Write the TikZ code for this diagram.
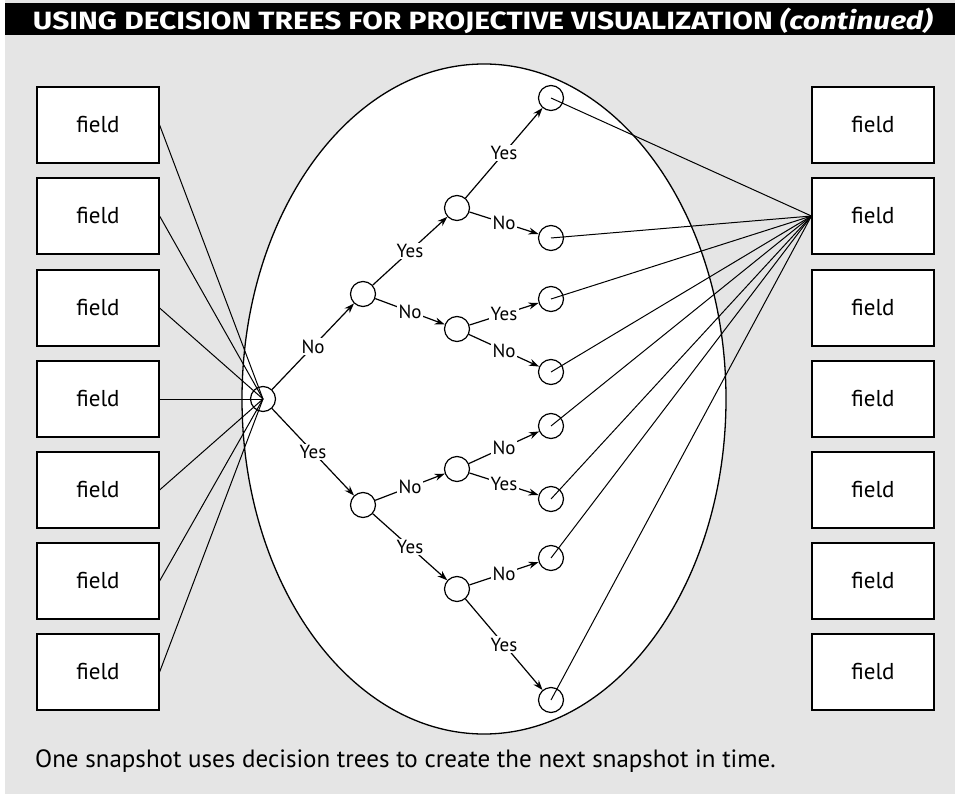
\documentclass[tikz,border=0pt]{standalone}
\usepackage{fontspec}
\setmainfont{PT Sans}
\newfontfamily\titlefont{Fira Sans}
\usetikzlibrary{arrows.meta}
\definecolor{bggrey}{RGB}{229,229,229}
\tikzset{
  fieldbox/.style={draw, fill=white, line width=1.2pt, minimum width=122pt, minimum height=76pt,
    font=\fontsize{23}{27}\selectfont, inner sep=0pt},
  dnode/.style={circle, draw, line width=1.2pt, minimum size=25pt, inner sep=0pt},
  branch/.style={line width=1.2pt, -{Stealth[length=10pt,width=7pt]}},
  lbl/.style={midway, fill=white, inner sep=1.5pt, font=\fontsize{19}{21}\selectfont},
  fan/.style={line width=1pt},
}
\begin{document}
\begin{tikzpicture}[x=1pt,y=-1pt]
\useasboundingbox (0,0) rectangle (955,794);
\fill[bggrey] (5,0) rectangle (955,794);
\fill[black] (5,3) rectangle (955,35);
\node[text=white, font=\titlefont\bfseries\fontsize{25}{27}\selectfont, inner sep=0pt, anchor=base] (title) at (483,30)
  {\resizebox{900pt}{\height}{USING DECISION TREES FOR PROJECTIVE VISUALIZATION \textit{(continued)}}};

% ellipse
\draw[fill=white, line width=1.3pt] (484,399) ellipse [x radius=242pt, y radius=335pt];

% left and right boxes
\foreach \i/\y in {1/125,2/216,3/308,4/399,5/490,6/581,7/672}{
  \node[fieldbox] (L\i) at (98,\y) {field};
  \node[fieldbox] (R\i) at (873,\y) {field};
}

% tree nodes
\node[dnode] (root) at (263,399) {};
\node[dnode] (a) at (363,294) {};
\node[dnode] (b) at (363,505) {};
\node[dnode] (aa) at (457,208) {};
\node[dnode] (ab) at (457,329) {};
\node[dnode] (ba) at (457,469) {};
\node[dnode] (bb) at (457,589) {};
\node[dnode] (t1) at (551,98) {};
\node[dnode] (t2) at (551,238) {};
\node[dnode] (t3) at (551,299) {};
\node[dnode] (t4) at (551,372) {};
\node[dnode] (t5) at (551,426) {};
\node[dnode] (t6) at (551,499) {};
\node[dnode] (t7) at (551,558) {};
\node[dnode] (t8) at (551,700) {};

% fans
\foreach \i in {1,...,7}{ \draw[fan] (L\i.east) -- (root.center); }
\foreach \t in {t1,t2,t3,t4,t5,t6,t7,t8}{ \draw[fan] (\t.center) -- (R2.west); }

% branches
\draw[branch] (root) -- node[lbl]{No} (a);
\draw[branch] (root) -- node[lbl]{Yes} (b);
\draw[branch] (a) -- node[lbl]{Yes} (aa);
\draw[branch] (a) -- node[lbl]{No} (ab);
\draw[branch] (b) -- node[lbl]{No} (ba);
\draw[branch] (b) -- node[lbl]{Yes} (bb);
\draw[branch] (aa) -- node[lbl]{Yes} (t1);
\draw[branch] (aa) -- node[lbl]{No} (t2);
\draw[branch] (ab) -- node[lbl]{Yes} (t3);
\draw[branch] (ab) -- node[lbl]{No} (t4);
\draw[branch] (ba) -- node[lbl]{No} (t5);
\draw[branch] (ba) -- node[lbl]{Yes} (t6);
\draw[branch] (bb) -- node[lbl]{No} (t7);
\draw[branch] (bb) -- node[lbl]{Yes} (t8);

% caption
\node[anchor=base west, font=\fontsize{25}{29}\selectfont, inner sep=0pt] (cap) at (35,767)
  {One snapshot uses decision trees to create the next snapshot in time.};
\end{tikzpicture}
\end{document}
